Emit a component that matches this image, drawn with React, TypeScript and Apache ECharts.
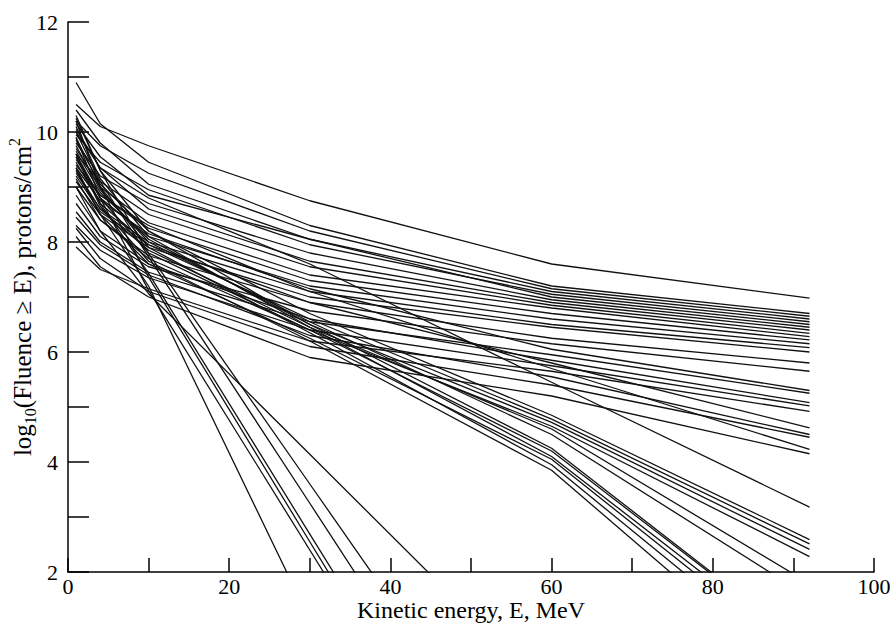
import React, { useEffect, useRef } from "react";
import * as echarts from "echarts";

// Kinetic energy thresholds (MeV) at which each event's fluence is given
const energies = [1, 4, 10, 30, 60, 92];

// log10(Fluence >= E) for each event, values at the energies above
const upperBand: (number | null)[][] = [
  [10.5, 10.1, 9.75, 8.75, 7.6, 6.98],
  [10.9, 10.15, 9.45, 8.3, 7.2, 6.7],
  [10.2, 9.75, 9.25, 8.2, 7.15, 6.65],
  [10.4, 9.8, 9.05, 8.05, 7.1, 6.6],
  [9.95, 9.45, 8.95, 7.95, 7.05, 6.55],
  [10.15, 9.55, 8.85, 8.05, 7.0, 6.5],
  [9.8, 9.2, 8.7, 7.8, 6.95, 6.45],
  [10.05, 9.35, 8.6, 7.65, 6.9, 6.4],
  [9.6, 9.1, 8.5, 7.55, 6.85, 6.34],
  [9.7, 9.0, 8.35, 7.4, 6.8, 6.28],
  [9.4, 8.85, 8.25, 7.3, 6.7, 6.22],
  [9.55, 8.8, 8.1, 7.2, 6.6, 6.15],
  [9.25, 8.6, 8.0, 7.1, 6.5, 6.08],
  [9.1, 8.5, 7.9, 7.0, 6.45, 6.0],
  [9.0, 8.4, 7.75, 6.9, 6.25, 5.8],
  [8.7, 8.1, 7.55, 6.75, 6.15, 5.65],
];

const middleBand: (number | null)[][] = [
  [9.35, 8.75, 8.15, 7.15, 6.05, 5.3],
  [8.55, 8.0, 7.45, 6.55, 5.95, 5.25],
  [10.0, 9.35, 8.8, 7.6, 5.45, 3.18],
  [8.85, 8.2, 7.6, 6.6, 5.85, 5.08],
  [8.3, 7.85, 7.35, 6.4, 5.75, 5.02],
  [7.91, 7.5, 7.15, 6.2, 5.65, 4.92],
  [9.2, 8.55, 7.95, 6.9, 5.8, 4.62],
  [8.45, 7.95, 7.4, 6.3, 5.55, 4.5],
  [8.25, 7.7, 7.1, 6.1, 5.4, 4.45],
  [9.5, 8.85, 8.3, 7.1, 5.7, 4.23],
  [8.1, 7.55, 7.0, 5.9, 5.2, 4.15],
];

const lowerBand: (number | null)[][] = [
  [9.85, 9.05, 8.2, 6.7, 4.85, 2.59],
  [9.45, 8.7, 7.95, 6.6, 4.78, 2.51],
  [9.65, 8.9, 8.05, 6.5, 4.72, 2.41],
  [9.15, 8.4, 7.7, 6.4, 4.65, 2.28],
  [9.75, 8.95, 8.0, 6.55, 4.5, 1.54],
  [9.3, 8.6, 7.85, 6.45, 4.6, 1.79],
  [9.55, 8.65, 7.65, 6.2, 3.85, -0.18],
  [9.9, 9.0, 7.9, 6.35, 3.95, 0.12],
  [9.35, 8.5, 7.6, 6.25, 4.05, 0.32],
  [10.1, 9.15, 8.1, 6.45, 4.1, 0.47],
  [9.6, 8.8, 7.8, 6.4, 4.2, 0.59],
  [10.25, 9.3, 8.2, 6.5, 4.25, 0.61],
];

const steepBand: (number | null)[][] = [
  [9.3, 8.5, 7.2, 1.13, null, null],
  [9.9, 8.8, 7.12, 2.4, -4.68, null],
  [10.2, 9.0, 7.36, 2.55, -4.65, null],
  [9.6, 8.7, 7.43, 2.69, -4.4, null],
  [10.0, 9.1, 7.73, 3.25, -3.5, null],
  [10.3, 9.3, 7.79, 3.6, -2.7, null],
  [9.0, 8.2, 7.06, 4.14, -0.24, null],
];

const xTitle = "Kinetic energy, E, MeV";
const FONT = "'Liberation Serif', 'Times New Roman', serif";

function buildSeries() {
  const all = [...upperBand, ...middleBand, ...lowerBand, ...steepBand];
  return all.map((vals, i) => ({
    type: "line",
    name: "event" + (i + 1),
    data: energies
      .map((e, j) => (vals[j] === null ? null : [e, vals[j]]))
      .filter((p) => p !== null),
    showSymbol: false,
    symbol: "none",
    silent: true,
    clip: true,
    lineStyle: { color: "#111", width: 1.3 },
  }));
}

export default function App() {
  const ref = useRef<HTMLDivElement>(null);
  useEffect(() => {
    document.body.style.margin = "0";
    const chart = echarts.init(ref.current!, null, { renderer: "svg" });
    chart.setOption({
      animation: false,
      backgroundColor: "#fff",
      grid: {
        left: 68,
        right: 19,
        top: 22,
        bottom: 57,
        containLabel: false,
        outerBoundsMode: "none",
      },
      xAxis: {
        type: "value",
        min: 0,
        max: 100,
        interval: 10,
        name: xTitle,
        nameLocation: "middle",
        nameGap: 26,
        nameMoveOverlap: false,
        nameTextStyle: { fontFamily: FONT, fontSize: 24, lineHeight: 24, color: "#000" },
        axisLine: { show: true, lineStyle: { color: "#000", width: 1.5 } },
        axisTick: { show: true, inside: true, length: 14, lineStyle: { color: "#000", width: 1.5 } },
        axisLabel: {
          fontFamily: FONT,
          fontSize: 22,
          lineHeight: 21,
          color: "#000",
          margin: 4,
          formatter: (v: number) => (v % 20 === 0 ? String(v) : ""),
        },
        splitLine: { show: false },
      },
      yAxis: {
        type: "value",
        min: 2,
        max: 12,
        interval: 1,
        name: "{a|log}{sub|10}{a|(Fluence ≥ E), protons/cm}{sup|2}",
        nameLocation: "middle",
        nameRotate: 90,
        nameGap: 30,
        nameMoveOverlap: false,
        nameTextStyle: {
          fontFamily: FONT,
          fontSize: 25,
          color: "#000",
          rich: {
            a: { fontFamily: FONT, fontSize: 25, color: "#000", lineHeight: 32 },
            sub: { fontFamily: FONT, fontSize: 16, color: "#000", verticalAlign: "bottom", lineHeight: 16 },
            sup: { fontFamily: FONT, fontSize: 16, color: "#000", verticalAlign: "top", lineHeight: 16 },
          },
        },
        axisLine: { show: true, lineStyle: { color: "#000", width: 1.5 } },
        axisTick: { show: true, inside: true, length: 21, lineStyle: { color: "#000", width: 1.5 } },
        axisLabel: {
          fontFamily: FONT,
          fontSize: 22,
          color: "#000",
          margin: 10,
          formatter: (v: number) => (v % 2 === 0 ? String(v) : ""),
        },
        splitLine: { show: false },
      },
      series: buildSeries(),
    });
    return () => chart.dispose();
  }, []);
  return <div ref={ref} style={{ width: 893, height: 629 }} />;
}
